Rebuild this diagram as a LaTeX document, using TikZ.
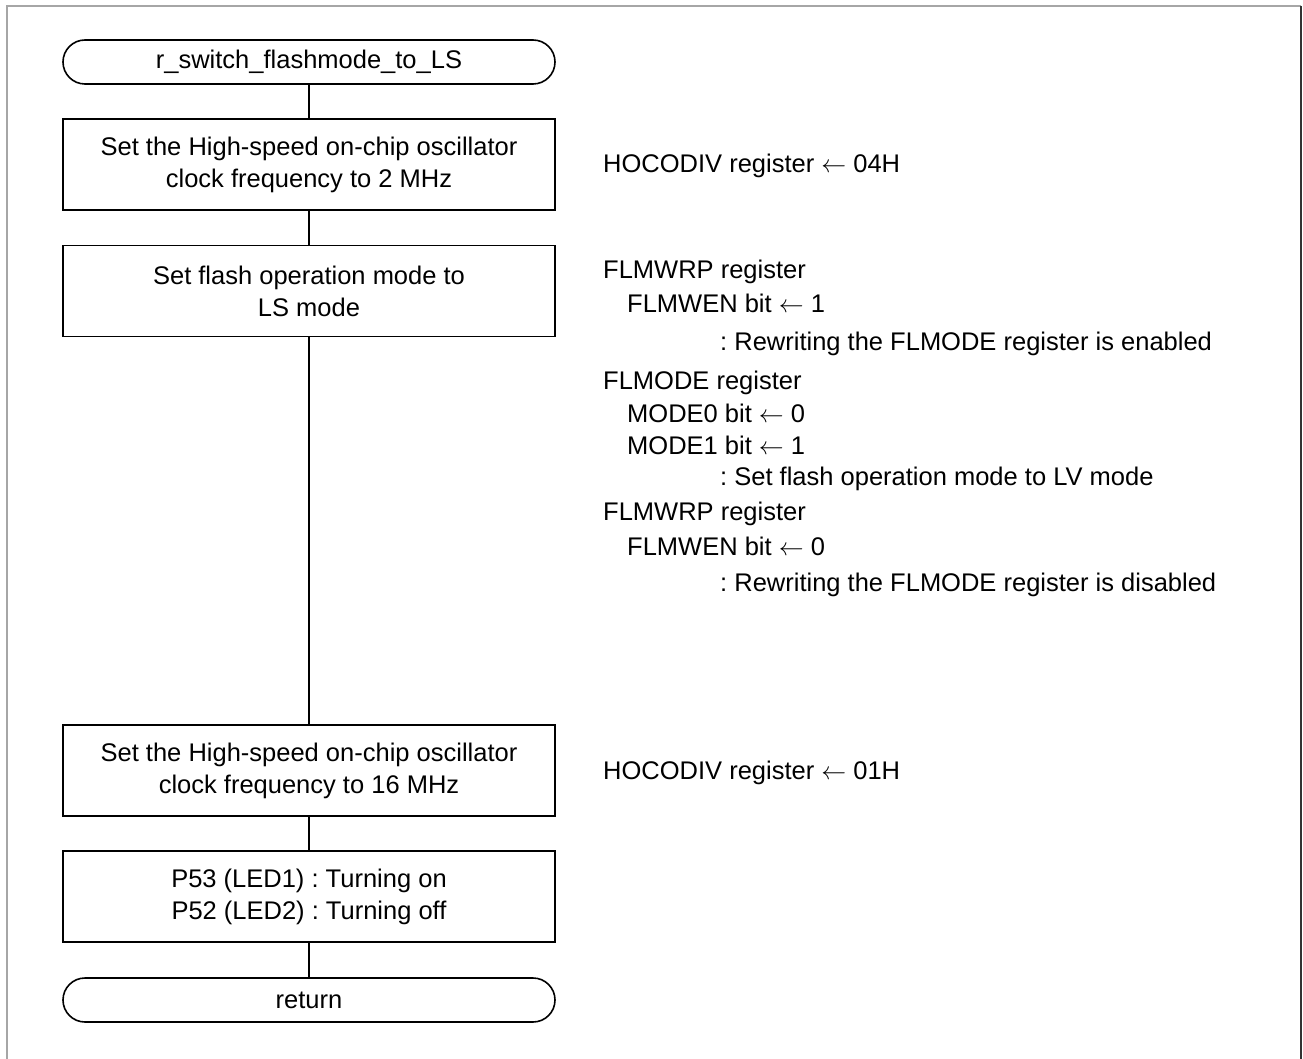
\documentclass[tikz,border=0pt]{standalone}
\usepackage{fontspec}
\setmainfont{Liberation Sans}
\usetikzlibrary{shapes.misc}
\frenchspacing
\newcommand{\larr}{\ $\leftarrow$\ }
\begin{document}
\begin{tikzpicture}[x=1pt,y=-1pt,
  every node/.style={font=\fontsize{25.5}{32}\selectfont},
  procbox/.style={draw,line width=1.6pt,minimum width=492pt,minimum height=91pt,align=center,inner sep=0pt},
  term/.style={draw,line width=1.6pt,rounded rectangle,minimum width=492pt,minimum height=44pt,inner sep=0pt},
  note/.style={anchor=base west,inner sep=0pt},
  flow/.style={line width=1.6pt}]
\useasboundingbox (0,0) rectangle (1303,1059);
\draw[gray!70,line width=1.5pt] (7,1059) -- (7,6) -- (1301,6);
\draw[black!80,line width=1.5pt] (1301,6) -- (1301,1059);

\node[term] (t1) at (309,62) {r\_switch\_flashmode\_to\_LS};
\node[procbox] (b1) at (309,164.5) {Set the High-speed on-chip oscillator\\clock frequency to 2 MHz};
\node[procbox] (b2) at (309,291) {Set flash operation mode to\\LS mode};
\node[procbox] (b3) at (309,770.5) {Set the High-speed on-chip oscillator\\clock frequency to 16 MHz};
\node[procbox] (b4) at (309,896.5) {P53 (LED1) : Turning on\\P52 (LED2) : Turning off};
\node[term] (t2) at (309,1000) {return};

\draw[flow] (t1) -- (b1);
\draw[flow] (b1) -- (b2);
\draw[flow] (b2) -- (b3);
\draw[flow] (b3) -- (b4);
\draw[flow] (b4) -- (t2);

\node[note] (n1) at (603,173) {HOCODIV register\larr04H};
\node[note] (n2) at (603,279) {FLMWRP register};
\node[note] (n3) at (627,312) {FLMWEN bit\larr1};
\node[note] (n4) at (720,350) {: Rewriting the FLMODE register is enabled};
\node[note] (n5) at (603,389) {FLMODE register};
\node[note] (n6) at (627,422) {MODE0 bit\larr0};
\node[note] (n7) at (627,454) {MODE1 bit\larr1};
\node[note] (n8) at (720,485) {: Set flash operation mode to LV mode};
\node[note] (n9) at (603,520) {FLMWRP register};
\node[note] (n10) at (627,555) {FLMWEN bit\larr0};
\node[note] (n11) at (720,591) {: Rewriting the FLMODE register is disabled};
\node[note] (n12) at (603,779) {HOCODIV register\larr01H};
\end{tikzpicture}
\end{document}
